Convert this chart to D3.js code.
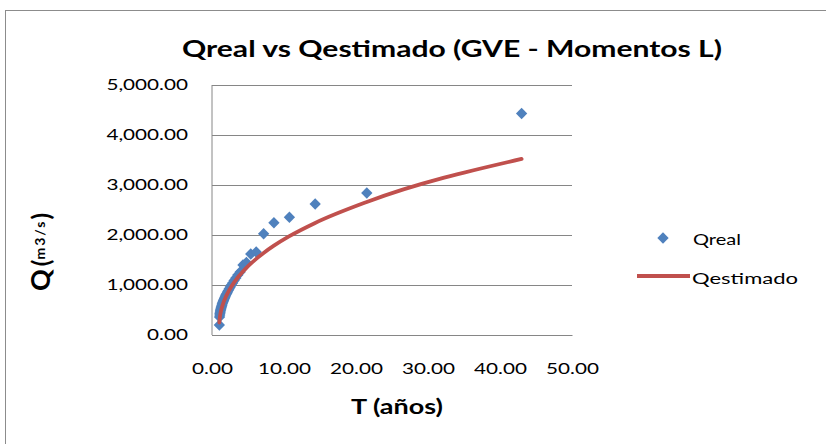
<!DOCTYPE html>
<html>
<head>
<meta charset="utf-8">
<script src="https://cdn.jsdelivr.net/npm/d3@7/dist/d3.min.js"></script>
<style>
  body { margin: 0; background: #fff; }
  svg { display: block; }
  text { font-family: Lato, "Noto Sans", sans-serif; fill: #000; }
</style>
</head>
<body>
<div id="chart"></div>
<script>
// periodo de retorno T (años), ordenado de menor a mayor
var tYears = [1.02, 1.05, 1.08, 1.10, 1.13, 1.16, 1.19, 1.23, 1.26, 1.30,
    1.34, 1.39, 1.43, 1.48, 1.54, 1.59, 1.65, 1.72, 1.79, 1.87,
    1.95, 2.05, 2.15, 2.26, 2.39, 2.53, 2.69, 2.87, 3.07, 3.31,
    3.58, 3.91, 4.30, 4.78, 5.38, 6.14, 7.17, 8.60, 10.75, 14.33,
    21.50, 43.00];

// caudal observado (m3/s)
var qReal = [200, 360, 400, 430, 455, 480, 500, 520, 540, 560,
    580, 600, 625, 645, 665, 685, 705, 730, 755, 780,
    805, 830, 860, 890, 925, 960, 1000, 1040, 1090, 1140,
    1200, 1260, 1400, 1450, 1620, 1660, 2025, 2245, 2355, 2620,
    2840, 4430];

// caudal estimado GVE (m3/s)
var qEst = [250, 299, 335, 366, 394, 419, 443, 467, 489, 512,
    534, 556, 579, 601, 624, 647, 671, 696, 721, 747,
    774, 802, 832, 863, 896, 931, 968, 1008, 1051, 1099,
    1150, 1207, 1271, 1343, 1426, 1523, 1641, 1786, 1976, 2241,
    2660, 3521];

var xTickValues = [0, 10, 20, 30, 40, 50];
var yTickValues = [0, 1000, 2000, 3000, 4000, 5000];
var seriesNames = ["Qreal", "Qestimado"];

var width = 826;
var height = 444;
var blue = "#4F81BD";
var red = "#C0504D";
var gridColor = "#868686";

var svg = d3.select("#chart")
    .append("svg")
    .attr("width", width)
    .attr("height", height);

// chart border
svg.append("rect")
    .attr("x", 5.5).attr("y", 10.5)
    .attr("width", 900).attr("height", 600)
    .attr("fill", "none")
    .attr("stroke", "#8c8c8c");

var xScale = d3.scaleLinear().domain([0, 50]).range([212, 572]);
var yScale = d3.scaleLinear().domain([0, 5000]).range([335, 85]);

// widen text a bit (the original chart is stretched horizontally)
function stretch(sel, k) {
    sel.each(function () {
        var len = this.getComputedTextLength();
        d3.select(this)
            .attr("textLength", len * k)
            .attr("lengthAdjust", "spacingAndGlyphs");
    });
}

// y axis + gridlines
var yAxis = d3.axisLeft(yScale)
    .tickValues(yTickValues)
    .tickFormat(d3.format(",.2f"))
    .tickSize(-(xScale(50) - xScale(0)))
    .tickPadding(24);

var gy = svg.append("g").attr("transform", "translate(" + xScale(0) + ",0)").call(yAxis);
gy.select(".domain").remove();
gy.selectAll(".tick line").attr("stroke", gridColor);
gy.selectAll(".tick text").attr("font-size", 15).attr("fill", "#000");
stretch(gy.selectAll(".tick text"), 1.38);

svg.append("line")
    .attr("x1", xScale(0)).attr("x2", xScale(0))
    .attr("y1", yScale(5000)).attr("y2", yScale(0))
    .attr("stroke", gridColor);

// x axis
var xAxis = d3.axisBottom(xScale)
    .tickValues(xTickValues)
    .tickFormat(d3.format(".2f"))
    .tickSize(0)
    .tickPadding(28);

var gx = svg.append("g").attr("transform", "translate(0," + yScale(0) + ")").call(xAxis);
gx.select(".domain").attr("stroke", gridColor);
gx.selectAll(".tick text").attr("font-size", 15).attr("fill", "#000");
stretch(gx.selectAll(".tick text"), 1.38);

// Qreal points
var pts = tYears.map(function (t, i) { return {t: t, q: qReal[i]}; });
svg.append("g").selectAll("path").data(pts)
    .enter()
    .append("path")
    .attr("d", d3.symbol().type(d3.symbolSquare).size(64))
    .attr("transform", function (d) {
        return "translate(" + xScale(d.t) + "," + yScale(d.q) + ") rotate(45)";
    })
    .attr("fill", blue);

// Qestimado line
var est = tYears.map(function (t, i) { return {t: t, q: qEst[i]}; });
var line = d3.line()
    .x(function (d) { return xScale(d.t); })
    .y(function (d) { return yScale(d.q); })
    .curve(d3.curveMonotoneX);

svg.append("path")
    .datum(est)
    .attr("d", line)
    .attr("fill", "none")
    .attr("stroke", red)
    .attr("stroke-width", 3.8)
    .attr("stroke-linecap", "round");

// title
svg.append("text")
    .attr("x", 452).attr("y", 57)
    .attr("text-anchor", "middle")
    .attr("font-size", 23)
    .attr("font-weight", "bold")
    .attr("textLength", 540)
    .attr("lengthAdjust", "spacingAndGlyphs")
    .text("Qreal vs Qestimado (GVE - Momentos L)");

// x title
svg.append("text")
    .attr("x", 397).attr("y", 414)
    .attr("text-anchor", "middle")
    .attr("font-size", 20)
    .attr("font-weight", "bold")
    .attr("textLength", 92)
    .attr("lengthAdjust", "spacingAndGlyphs")
    .text("T (años)");

// y title: Q (m3/s) with small units
var yt = svg.append("text")
    .attr("transform", "translate(50,252) rotate(-90)")
    .attr("text-anchor", "middle")
    .attr("font-weight", "bold");
yt.append("tspan").attr("font-size", 27).text("Q");
yt.append("tspan").attr("font-size", 24).attr("dx", 3).text("(");
yt.append("tspan").attr("font-size", 14).attr("dy", -5)
    .attr("letter-spacing", 2).text("m3/s");
yt.append("tspan").attr("font-size", 24).attr("dy", 5).text(")");

// legend
var lg = svg.append("g");
lg.append("path")
    .attr("d", d3.symbol().type(d3.symbolSquare).size(64))
    .attr("transform", "translate(663,238) rotate(45)")
    .attr("fill", blue);
lg.append("text")
    .attr("x", 693).attr("y", 245)
    .attr("font-size", 16)
    .attr("textLength", 48)
    .attr("lengthAdjust", "spacingAndGlyphs")
    .text(seriesNames[0]);
lg.append("line")
    .attr("x1", 637).attr("x2", 690)
    .attr("y1", 276).attr("y2", 276)
    .attr("stroke", red)
    .attr("stroke-width", 3.8);
lg.append("text")
    .attr("x", 692).attr("y", 284)
    .attr("font-size", 16)
    .attr("textLength", 106)
    .attr("lengthAdjust", "spacingAndGlyphs")
    .text(seriesNames[1]);
</script>
</body>
</html>
